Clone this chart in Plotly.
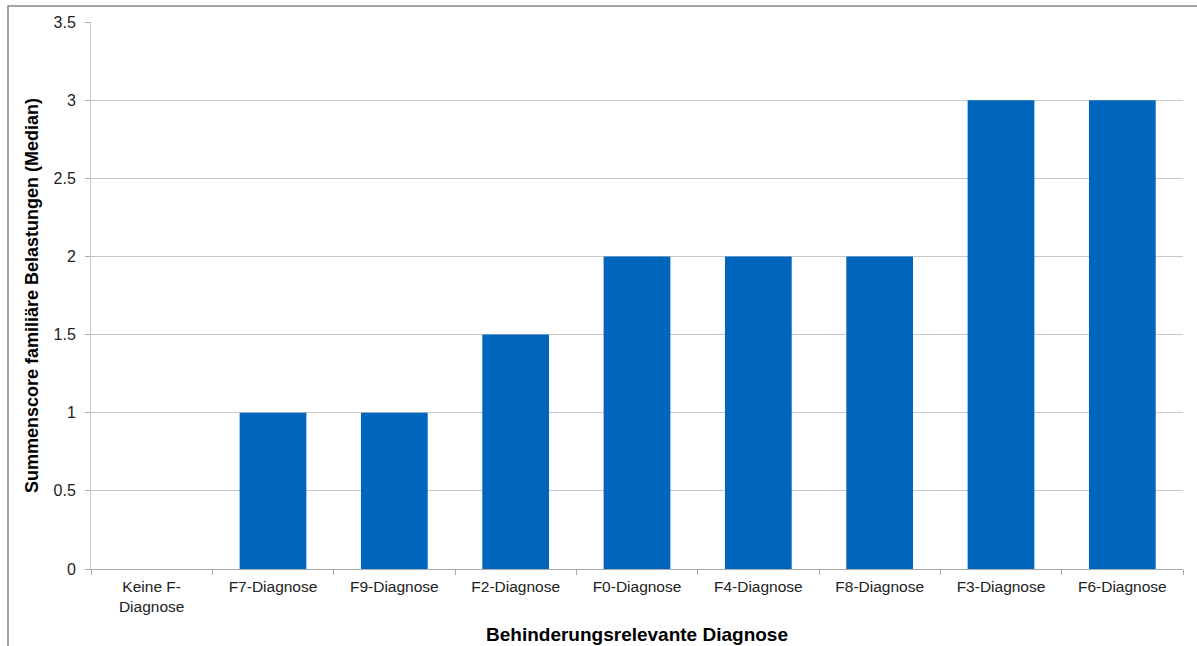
import plotly.graph_objects as go

categories = ["Keine F-<br>Diagnose", "F7-Diagnose", "F9-Diagnose", "F2-Diagnose", "F0-Diagnose",
              "F4-Diagnose", "F8-Diagnose", "F3-Diagnose", "F6-Diagnose"]
values = [0, 1, 1, 1.5, 2, 2, 2, 3, 3]
y_ticks = [0, 0.5, 1, 1.5, 2, 2.5, 3, 3.5]
y_labels = ["0", "0.5", "1", "1.5", "2", "2.5", "3", "3.5"]

fig = go.Figure(go.Bar(x=categories, y=values, marker=dict(color="#0066BB", line=dict(width=0))))

fig.update_layout(
    width=1197, height=646,
    margin=dict(l=91, r=14, t=22, b=77, autoexpand=False),
    paper_bgcolor="white", plot_bgcolor="white",
    bargap=0.45,
    showlegend=False,
    font=dict(family="Liberation Sans, Arial", size=15, color="#222"),
)
fig.update_xaxes(
    type="category", automargin=False,
    tickson="boundaries", ticks="outside", ticklen=5, tickcolor="#aaa", ticklabelstandoff=3,
    showline=True, linecolor="#aaa", linewidth=1,
    showgrid=False,
    tickfont=dict(size=15.5, color="#222"),
    title=dict(text="<b>Behinderungsrelevante Diagnose</b>", font=dict(size=19, color="#000"), standoff=13),
)
fig.update_yaxes(
    automargin=False,
    range=[0, 3.5], tickvals=y_ticks, ticktext=y_labels,
    ticks="outside", ticklen=5, tickcolor="#aaa", ticklabelstandoff=6,
    showline=True, linecolor="#c8c8c8", linewidth=1,
    showgrid=True, gridcolor="#c8c8c8", gridwidth=1,
    zeroline=False,
    tickfont=dict(size=16, color="#222"),
    title=dict(text="<b>Summenscore familiäre Belastungen (Median)</b>", font=dict(size=18, color="#000"), standoff=10),
)
# outer chart frame (partially cut off at the right and bottom)
fig.add_shape(type="rect", xref="paper", yref="paper",
              x0=-83/1092, x1=1.05, y0=-0.2, y1=1 + 16/547,
              line=dict(color="#888", width=1.5), layer="below")

fig.write_html("out.html", config={"displayModeBar": False},
               post_script="document.body.style.margin='0';")
